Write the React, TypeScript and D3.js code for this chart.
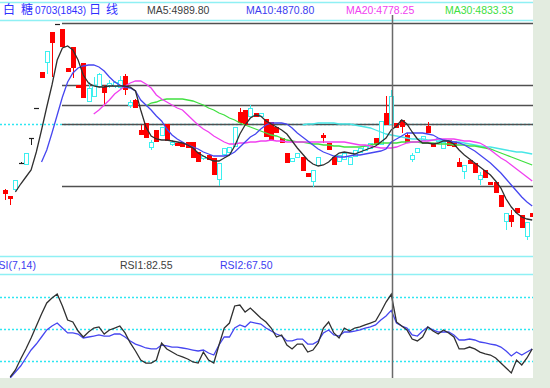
import React from 'react';
import * as d3 from 'd3';

// daily bars, prices
const opens = [
  4390, 4330, 4390, 4660, 4640, 4910, 5210, 5570, 5660, 5970,
  6050, 6000, 5610, 5820, 5440, 5660, 5270, 5320, 5420, 5420,
  5430, 5420, 5410, 5530, 5230, 5290, 4990, 5060, 4810, 4990,
  4930, 5050, 4840, 4860, 4860, 4870, 4870, 4770, 4700, 4740,
  4710, 4490, 4740, 4760, 4820, 5170, 5190, 5120, 5160, 5120,
  5100, 5070, 5020, 4910, 4760, 4670, 4710, 4720, 4560, 4470,
  4630, 4940, 4860, 4720, 4670, 4690, 4640, 4720, 4760, 4780,
  4800, 4910, 4840, 5160, 5040, 5060, 5090, 4940, 4690, 4760,
  4880, 5030, 4860, 4870, 4800, 4890, 4880, 4670, 4570, 4690,
  4660, 4490, 4590, 4470, 4470, 4340, 4070, 4140, 4210, 4140,
  3920, 4160,
];
const highs = [
  4400, 4330, 4490, 4670, 4760, 4910, 5210, 5570, 5780, 5970,
  6050, 6000, 5610, 5820, 5440, 5660, 5470, 5520, 5560, 5440,
  5490, 5480, 5530, 5550, 5290, 5300, 5040, 5060, 4890, 4990,
  5020, 5050, 4890, 4860, 4860, 4870, 4870, 4770, 4730, 4740,
  4710, 4660, 4810, 4820, 5020, 5210, 5190, 5240, 5160, 5160,
  5100, 5070, 5020, 4910, 4760, 4710, 4760, 4720, 4560, 4590,
  4720, 4960, 4860, 4720, 4740, 4760, 4720, 4790, 4810, 4830,
  4860, 4910, 5080, 5330, 5390, 5060, 5090, 4960, 4760, 4810,
  4930, 5070, 4860, 4910, 4870, 4890, 4880, 4710, 4640, 4690,
  4660, 4570, 4590, 4470, 4470, 4340, 4160, 4190, 4210, 4140,
  4070, 4160,
];
const lows = [
  4290, 4240, 4380, 4650, 4640, 4840, 5210, 5510, 5550, 5520,
  6050, 5820, 5570, 5510, 5410, 5310, 5270, 5320, 5410, 5230,
  5410, 5410, 5400, 5340, 5210, 5210, 4940, 4910, 4790, 4870,
  4930, 4880, 4830, 4830, 4820, 4810, 4710, 4670, 4690, 4690,
  4540, 4430, 4730, 4760, 4820, 5060, 5040, 5120, 5120, 5120,
  4920, 4890, 4960, 4860, 4660, 4670, 4710, 4580, 4520, 4420,
  4630, 4860, 4790, 4640, 4670, 4690, 4640, 4720, 4760, 4780,
  4800, 4840, 4840, 5040, 5040, 5010, 4960, 4860, 4670, 4760,
  4880, 4960, 4820, 4870, 4800, 4830, 4820, 4620, 4500, 4650,
  4560, 4440, 4510, 4440, 4360, 4220, 3990, 4020, 4160, 4010,
  3890, 4120,
];
const closes = [
  4350, 4300, 4490, 4660, 4760, 4910, 5210, 5510, 5780, 5860,
  6050, 5820, 5570, 5610, 5410, 5310, 5410, 5440, 5550, 5360,
  5460, 5470, 5490, 5390, 5270, 5210, 4940, 4910, 4870, 4870,
  5020, 4880, 4870, 4830, 4820, 4810, 4710, 4670, 4730, 4690,
  4540, 4660, 4810, 4820, 5020, 5060, 5040, 5210, 5120, 5160,
  4920, 4890, 4960, 4860, 4660, 4710, 4760, 4580, 4520, 4590,
  4720, 4910, 4790, 4640, 4740, 4760, 4720, 4790, 4810, 4830,
  4860, 4840, 5080, 5040, 5330, 5010, 5020, 4860, 4740, 4810,
  4930, 4960, 4820, 4910, 4870, 4830, 4820, 4620, 4640, 4650,
  4560, 4540, 4510, 4440, 4360, 4220, 4160, 4070, 4160, 4010,
  4070, 4120,
];

// moving averages (null = not drawn yet)
const ma5 = [
  null, null,
  4370, 4450, 4520, 4590, 4770, 4990, 5220, 5440, 5690, 5810, 5830, 5790,
  5690, 5540, 5460, 5430, 5420, 5420, 5430, 5430, 5430, 5430, 5420, 5380,
  5190, 5020, 4930, 4900, 4890, 4890, 4880, 4870, 4860, 4840, 4810, 4760,
  4730, 4700, 4680, 4680, 4710, 4740, 4830, 4950, 5040, 5110, 5140, 5130,
  5080, 5050, 5020, 4990, 4950, 4880, 4810, 4750, 4690, 4650, 4630, 4640,
  4670, 4720, 4760, 4770, 4760, 4750, 4770, 4790, 4810, 4830, 4870, 4910,
  4990, 5030, 5090,
  5050, 4970, 4900, 4860, 4860, 4850, 4860, 4880, 4880, 4850, 4790, 4740,
  4700, 4660, 4620, 4580, 4540, 4480, 4410, 4300, 4220, 4160, 4120, 4100, 4090,
];
const ma10 = [
  null, null, null, null, null, null, null,
  4670, 4790, 4960, 5140, 5320, 5470, 5560, 5610, 5630, 5640, 5640, 5620,
  5580, 5520, 5470, 5440, 5420, 5410, 5380,
  5290, 5240, 5190, 5130, 5080, 5000, 4940, 4900, 4870, 4840, 4820, 4800,
  4770, 4750, 4730, 4730, 4730, 4740, 4770, 4820, 4870, 4920, 4950, 5000,
  5040, 5060, 5060, 5060, 5050, 5010, 4960, 4920, 4880, 4840, 4800, 4770,
  4750, 4730, 4720, 4720, 4730, 4740, 4740, 4750, 4760, 4770, 4780, 4800,
  4870, 4900, 4930,
  4960, 4960, 4960, 4960, 4950, 4940, 4910, 4890, 4880, 4870, 4860, 4840,
  4810, 4780, 4740, 4700, 4660, 4610, 4560, 4500, 4440, 4380, 4320, 4270, 4230,
];
const ma20 = [
  ...Array(17).fill(null),
  5150, 5190, 5240, 5290, 5350, 5390, 5430, 5460, 5480,
  5480, 5450, 5410, 5340, 5300, 5270, 5240, 5210, 5190, 5140, 5090, 5040,
  5000, 4970, 4930, 4900, 4870, 4850, 4850, 4860, 4860, 4870, 4870, 4880,
  4880, 4890, 4880, 4880, 4870, 4870, 4870, 4870, 4870, 4870, 4870, 4870,
  4870, 4870, 4870, 4870, 4860, 4850, 4840, 4840, 4830, 4820, 4810, 4810,
  4810, 4820, 4840,
  4860, 4870, 4870, 4880, 4880, 4890, 4900, 4900, 4900, 4900, 4890, 4880,
  4880, 4870, 4860, 4830, 4790, 4750, 4710, 4680, 4640, 4600, 4560, 4520, 4480,
];
const ma30 = [
  ...Array(27).fill(null),
  5230, 5260, 5270, 5290, 5300, 5300, 5300, 5300, 5290, 5280, 5260, 5240,
  5210, 5190, 5160, 5140, 5110, 5090, 5060, 5040, 5020, 5000, 4980, 4960,
  4940, 4930, 4910, 4890, 4880, 4870, 4870, 4860, 4850, 4850, 4840, 4840,
  4830, 4830, 4820, 4820, 4820, 4820, 4830, 4840, 4850, 4860, 4860, 4860,
  4860, 4870,
  4870, 4870, 4870, 4860, 4860, 4860, 4850, 4850, 4850, 4840, 4840, 4840,
  4830, 4830, 4820, 4810, 4800, 4780, 4760, 4740, 4720, 4700, 4680, 4660, 4640,
];
const ma60 = [
  ...Array(57).fill(null),
  5040, 5050, 5050, 5060, 5060, 5060, 5060, 5050, 5050, 5050, 5040, 5030,
  5020, 5010, 4990, 4970, 4950, 4940, 4930, 4920,
  4910, 4900, 4900, 4900, 4890, 4890, 4890, 4880, 4880, 4870, 4870, 4860,
  4850, 4840, 4830, 4820, 4820, 4810, 4800, 4790, 4780, 4770, 4770, 4760, 4750,
];

const rsi1 = [
  null,
  5, 11.6, 21.9, 31.3, 41.6, 52.8, 64.1, 74.4, 79.1, 82.8,
  71.6, 58.4, 56.6, 48.1, 42.5, 47.2, 50.9, 51.9, 45.3, 49.1,
  50.9, 52.8, 46.3, 36.9, 29.4, 20.9, 18.1, 18.1, 20.9, 36.9,
  31.3, 28.4, 25.6, 23.8, 21.9, 19.1, 18.1, 28.4, 20.9, 18.1,
  35, 50.9, 55.6, 71.6, 72.5, 65.9, 69.7, 65, 60.3, 56.6,
  50.9, 42.5, 44.4, 35, 31.3, 35.9, 35.9, 28.4, 30.3, 36.9,
  50.9, 56.6, 46.3, 41.6, 50.9, 48.1, 50.9, 51.9, 53.8, 55.6,
  57.5, 65.9, 75.3, 82.55, 56.6, 52.8, 49.1, 40.6, 38.8, 42.5,
  51.9, 48.1, 45.3, 49.1, 46.3, 42.5, 31.3, 31.3, 33.1, 31.3,
  28.4, 26.6, 25.6, 22.8, 18.1, 13.4, 8.8, 20.9, 16.3, 22.8,
  31.3,
];
const rsi2 = [
  null,
  4.1, 9.7, 15.3, 22.8, 30.3, 35.9, 42.5, 49.1, 52.8, 55.6,
  50.9, 46.3, 46.3, 45.3, 41.6, 42.5, 43.4, 44.4, 43.4, 43.4,
  45.3, 45.3, 42.5, 38.8, 35.9, 34.1, 32.2, 31.3, 31.3, 35,
  34.1, 33.1, 33.1, 32.2, 31.3, 30.3, 29.4, 30.3, 27.5, 25.6,
  35, 42.5, 42.5, 50.9, 53.8, 51.9, 56.6, 55.6, 54.7, 50.9,
  48.1, 45.3, 43.4, 38.8, 38.8, 40.6, 40.6, 35.9, 35.9, 38.8,
  46.3, 49.1, 44.4, 43.4, 47.2, 47.2, 48.1, 49.1, 50.9, 51.9,
  53.8, 58.4, 62.2, 67.5, 55.6, 52.8, 50.9, 44.4, 43.4, 48.1,
  51.9, 49.1, 47.2, 47.2, 47.2, 44.4, 39.7, 39.7, 40.6, 39.7,
  37.8, 36.9, 35.9, 35, 33.1, 29.4, 24.7, 28.4, 25.6, 28.4,
  31.3,
];

// golden section lines between swing high and swing low
const fibHigh = 6060;
const fibLow = 4430;
const fibRatios = [0, 0.382, 0.5, 0.618, 1];
const refPrice = 5050;
const rsiGuides = [80, 50, 20];
const crossIndex = 74;

const maLabels = ['MA5:4989.80', 'MA10:4870.80', 'MA20:4778.25', 'MA30:4833.33'];
const rsiLabels = ['RSI(7,14)', 'RSI1:82.55', 'RSI2:67.50'];

const W = 550;
const H = 388;
const RIGHT = 533;
const BOTTOM = 378;

const UP = '#3cf0f0';
const DOWN = '#ff0000';
const GUIDE = '#2ee6f2';
const FONT = '"Liberation Sans", Arial, sans-serif';
const CJK = '"Noto Sans CJK SC", sans-serif';

export default function App() {
  const n = closes.length;
  const x = d3.scaleLinear().domain([0, n - 1]).range([5, 532.2]);
  const y = d3.scaleLinear().domain([fibHigh, fibLow]).range([23, 186]);
  const yr = d3.scaleLinear().domain([80, 20]).range([297, 361]);

  const line = (yy: (v: number) => number) =>
    d3.line<number | null>()
      .defined((d) => d != null)
      .x((_, i) => x(i))
      .y((d) => yy(d as number));

  const maSeries = [
    { data: ma60, color: '#48e6e6' },
    { data: ma30, color: '#40e040' },
    { data: ma20, color: '#f040f0' },
    { data: ma10, color: '#4646f0' },
    { data: ma5, color: '#303030' },
  ];

  const crossX = Math.round(x(crossIndex)) + 1.5;

  return (
    <div style={{ position: 'absolute', left: 0, top: 0 }}>
      <svg width={W} height={H} style={{ display: 'block' }}>
        <defs>
          <clipPath id="mainClip">
            <rect x={0} y={21} width={RIGHT} height={235} />
          </clipPath>
          <clipPath id="rsiClip">
            <rect x={0} y={275} width={RIGHT} height={BOTTOM - 275} />
          </clipPath>
          <clipPath id="plotClip">
            <rect x={0} y={0} width={RIGHT} height={BOTTOM} />
          </clipPath>
        </defs>
        <rect x={0} y={0} width={W} height={H} fill="#e3ece0" />
        <rect x={0} y={0} width={RIGHT} height={BOTTOM} fill="#ffffff" />

        {/* header bars */}
        {[2.5, 20.5, 256.5, 274.5].map((v) => (
          <line key={v} x1={0} x2={RIGHT} y1={v} y2={v} stroke="#8ff0f4" strokeWidth={1.5} />
        ))}

        <g clipPath="url(#plotClip)">
          <text y={14} fontSize={12} fill="#3030ff" fontFamily={CJK}>
            <tspan x={3}>白</tspan>
            <tspan x={21}>糖</tspan>
          </text>
          <text x={35} y={14} fontSize={10} fill="#3030ff" fontFamily={FONT}>0703(1843)</text>
          <text y={14} fontSize={12} fill="#3030ff" fontFamily={CJK}>
            <tspan x={89}>日</tspan>
            <tspan x={106}>线</tspan>
          </text>
          {maLabels.map((t, i) => (
            <text key={t} x={[147, 246, 346, 445][i]} y={14} fontSize={10.5}
              fill={['#404040', '#3c3cf0', '#f040f0', '#40e040'][i]} fontFamily={FONT}>{t}</text>
          ))}
          {rsiLabels.map((t, i) => (
            <text key={t} x={[-9, 120, 220][i]} y={269} fontSize={10.5}
              fill={['#3c3cf0', '#404040', '#3c3cf0'][i]} fontFamily={FONT}>{t}</text>
          ))}
        </g>

        <g clipPath="url(#mainClip)">
          <line x1={0} x2={RIGHT} y1={Math.round(y(refPrice)) + 0.5} y2={Math.round(y(refPrice)) + 0.5}
            stroke={GUIDE} strokeWidth={1.3} strokeDasharray="2,2" />
          {fibRatios.map((r) => {
            const yy = Math.round(y(fibHigh - (fibHigh - fibLow) * r)) + 0.5;
            return <line key={r} x1={62} x2={RIGHT} y1={yy} y2={yy} stroke="#505050" strokeWidth={1.6} />;
          })}

          {closes.map((c, i) => {
            const o = opens[i];
            const cx = Math.round(x(i));
            const yh = y(highs[i]);
            const yl = y(lows[i]);
            const top = Math.round(y(Math.max(o, c)));
            const bot = Math.round(y(Math.min(o, c)));
            if (c === o) {
              return (
                <g key={i}>
                  {highs[i] !== lows[i] && (
                    <line x1={cx + 0.5} x2={cx + 0.5} y1={yh} y2={yl} stroke="#202020" />
                  )}
                  <line x1={cx - 2} x2={cx + 3} y1={top + 0.5} y2={top + 0.5} stroke="#202020" strokeWidth={1.2} />
                </g>
              );
            }
            if (c > o) {
              return (
                <g key={i}>
                  <line x1={cx + 0.5} x2={cx + 0.5} y1={yh} y2={yl} stroke={UP} />
                  <rect x={cx - 1.5} y={top + 0.5} width={4} height={Math.max(bot - top - 1, 1)}
                    fill="#ffffff" stroke={UP} strokeWidth={1} />
                </g>
              );
            }
            return (
              <g key={i}>
                <line x1={cx + 0.5} x2={cx + 0.5} y1={yh} y2={yl} stroke={DOWN} />
                <rect x={cx - 2} y={top} width={5} height={Math.max(bot - top, 1)} fill={DOWN} />
              </g>
            );
          })}

          {maSeries.map((s) => (
            <path key={s.color} d={line(y)(s.data) || ''} fill="none" stroke={s.color} strokeWidth={1.3} />
          ))}
        </g>

        <g clipPath="url(#rsiClip)">
          {rsiGuides.map((g) => (
            <line key={g} x1={0} x2={RIGHT} y1={Math.round(yr(g)) + 0.5} y2={Math.round(yr(g)) + 0.5}
              stroke={GUIDE} strokeWidth={1.3} strokeDasharray="2,2" />
          ))}
          <path d={line(yr)(rsi2) || ''} fill="none" stroke="#4646f0" strokeWidth={1.3} />
          <path d={line(yr)(rsi1) || ''} fill="none" stroke="#303030" strokeWidth={1.3} />
        </g>

        <line x1={crossX} x2={crossX} y1={15} y2={BOTTOM} stroke="#6a6a6a" strokeWidth={1.5} />
      </svg>
    </div>
  );
}
